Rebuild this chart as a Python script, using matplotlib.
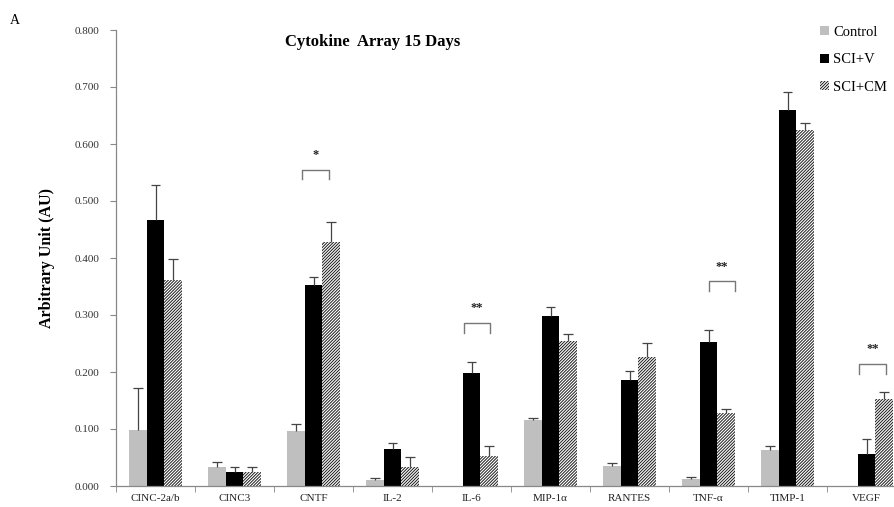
import matplotlib
matplotlib.use("Agg")
import matplotlib.pyplot as plt
import numpy as np

plt.rcParams['font.family'] = ['Liberation Serif', 'DejaVu Serif']
plt.rcParams['hatch.linewidth'] = 0.7

categories = ["CINC-2a/b", "CINC3", "CNTF", "IL-2", "IL-6", "MIP-1\u03b1", "RANTES", "TNF-\u03b1", "TIMP-1", "VEGF"]
series = ["Control", "SCI+V", "SCI+CM"]
control = [0.098, 0.033, 0.097, 0.011, 0.0, 0.115, 0.035, 0.013, 0.064, 0.0]
sci_v = [0.467, 0.024, 0.353, 0.065, 0.198, 0.299, 0.186, 0.252, 0.660, 0.056]
sci_cm = [0.361, 0.025, 0.428, 0.033, 0.053, 0.254, 0.227, 0.128, 0.625, 0.153]
control_err = [0.074, 0.009, 0.011, 0.003, 0.0, 0.004, 0.006, 0.002, 0.007, 0.0]
sci_v_err = [0.061, 0.009, 0.013, 0.010, 0.019, 0.015, 0.015, 0.022, 0.032, 0.026]
sci_cm_err = [0.038, 0.008, 0.035, 0.018, 0.018, 0.013, 0.024, 0.007, 0.011, 0.012]
# significance brackets: category, left offset, right offset, top, leg bottom, label
sig_cat = [2, 4, 7, 9]
sig_x0 = [-0.146, -0.099, 0.0, -0.091]
sig_x1 = [0.196, 0.238, 0.339, 0.247]
sig_top = [0.555, 0.286, 0.359, 0.214]
sig_bot = [0.538, 0.268, 0.342, 0.196]
sig_label = ["*", "**", "**", "**"]
yticks = [0.0, 0.1, 0.2, 0.3, 0.4, 0.5, 0.6, 0.7, 0.8]

fig = plt.figure(figsize=(8.94, 5.07), dpi=100)
ax = fig.add_axes([116/894, 1-486/507, 790/894, 456/507])

x = np.arange(len(categories))
w = 0.223
cap = 0.06
ecol = '#444444'

def upper_err(xs, vals, errs):
    xs = np.asarray(xs); vals = np.asarray(vals); errs = np.asarray(errs)
    m = errs > 0
    ax.vlines(xs[m], vals[m], vals[m] + errs[m], colors=ecol, lw=0.9, zorder=3)
    ax.hlines(vals[m] + errs[m], xs[m] - cap, xs[m] + cap, colors=ecol, lw=0.9, zorder=3)

ax.bar(x - w, control, w, color='#BFBFBF', label=series[0])
ax.bar(x, sci_v, w, color='black', label=series[1])
ax.bar(x + w, sci_cm, w, color='white', edgecolor='#1a1a1a', linewidth=0,
       hatch='///////////', label=series[2])
upper_err(x - w, control, control_err)
upper_err(x, sci_v, sci_v_err)
upper_err(x + w, sci_cm, sci_cm_err)

for c, a, b, t, bt, lab in zip(sig_cat, sig_x0, sig_x1, sig_top, sig_bot, sig_label):
    ax.plot([c + a, c + a, c + b, c + b], [bt, t, t, bt], color='#777777', lw=1.0)
    ax.text(c + (a + b) / 2, t + 0.015, lab, ha='center', va='bottom', fontsize=9,
            fontweight='bold', color='#222222')

ax.set_xlim(-0.5, len(categories) - 0.5)
ax.set_ylim(0, 0.8)
ax.set_yticks(yticks)
ax.set_yticklabels([f"{v:.3f}" for v in yticks], fontsize=8, color='#333333')
ax.set_xticks(x)
ax.set_xticklabels(categories, fontsize=8, color='#222222')
ax.set_xticks(np.arange(len(categories) + 1) - 0.5, minor=True)
ax.tick_params(axis='x', which='major', length=0, pad=6)
ax.tick_params(axis='x', which='minor', length=4, color='#888888')
ax.tick_params(axis='y', length=4, color='#888888', pad=8)
for s in ['top', 'right']:
    ax.spines[s].set_visible(False)
for s in ['left', 'bottom']:
    ax.spines[s].set_color('#888888')
    ax.spines[s].set_linewidth(0.9)

ax.set_ylabel("Arbitrary Unit (AU)", fontsize=11.5, fontweight='bold', labelpad=14)
fig.text(373/894, 1-42/507, "Cytokine  Array 15 Days", ha='center', va='center',
         fontsize=12, fontweight='bold')
fig.text(10/894, 1-20/507, "A", ha='left', va='center', fontsize=10)

fig.legend(loc='upper left', bbox_to_anchor=(814/894, 1-20/507), frameon=False,
           fontsize=10.5, handlelength=0.6, handleheight=0.6, handletextpad=0.3,
           labelspacing=1.0, borderaxespad=0)

fig.savefig("out.png", dpi=100)
